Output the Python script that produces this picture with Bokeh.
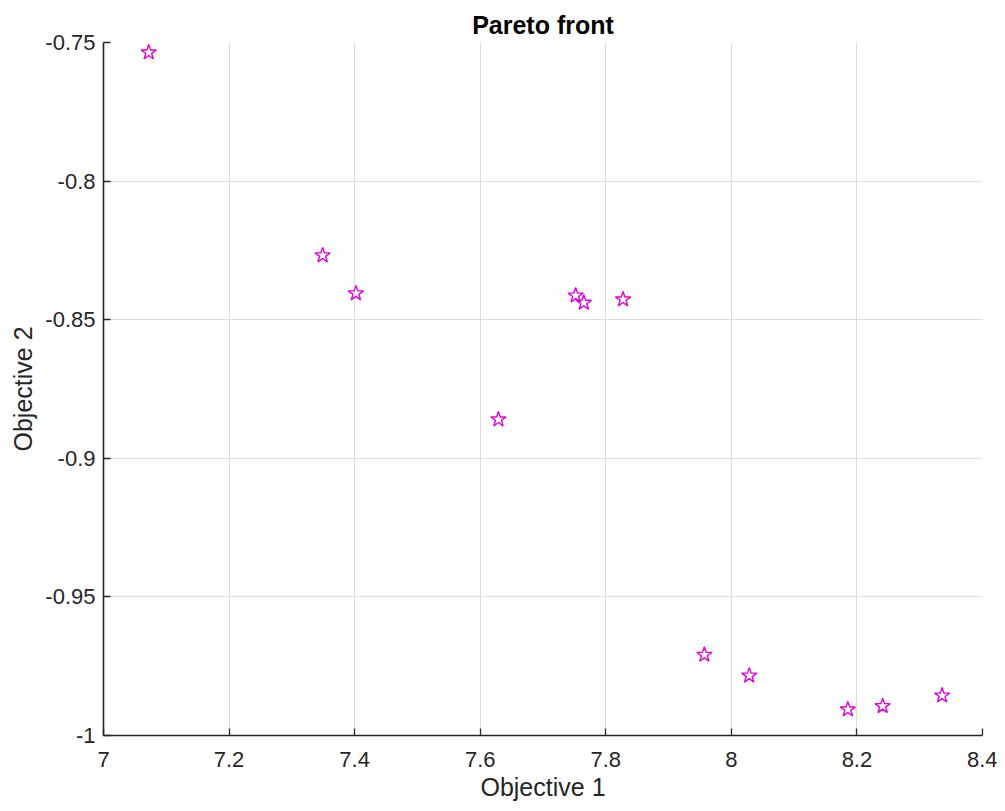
from bokeh.plotting import figure
from bokeh.models import FixedTicker, Range1d, ColumnDataSource
from bokeh.embed import file_html
from bokeh.resources import INLINE

obj1 = [7.072, 7.349, 7.402, 7.629, 7.752, 7.765, 7.8275, 7.957, 8.0285, 8.1855, 8.241, 8.3357]
obj2 = [-0.7536, -0.8268, -0.8405, -0.886, -0.8413, -0.8439, -0.8427, -0.9709, -0.9784, -0.9906, -0.9894, -0.9856]

x_ticks = [7.0, 7.2, 7.4, 7.6, 7.8, 8.0, 8.2, 8.4]
x_tick_labels = ["7", "7.2", "7.4", "7.6", "7.8", "8", "8.2", "8.4"]
y_ticks = [-1.0, -0.95, -0.9, -0.85, -0.8, -0.75]
y_tick_labels = ["-1", "-0.95", "-0.9", "-0.85", "-0.8", "-0.75"]

FONT = "Liberation Sans"
DARK = "#262626"

p = figure(width=997, height=803, output_backend="svg", toolbar_location=None,
           x_range=Range1d(7.0, 8.4), y_range=Range1d(-1.0, -0.75),
           title="Pareto front",
           min_border_left=103, min_border_right=15, min_border_top=42, min_border_bottom=68)

p.title.align = "center"
p.title.text_font = FONT
p.title.text_font_size = "25px"
p.title.text_font_style = "bold"
p.title.text_color = "#000000"
p.title.offset = 0
p.title.standoff = 8

p.outline_line_color = None
p.background_fill_color = "white"
p.border_fill_color = "white"

src = ColumnDataSource(dict(x=obj1, y=obj2))
p.scatter("x", "y", source=src, marker="star", size=16, fill_color=None,
          line_color="#e000e0", line_width=1.4)

p.xaxis.ticker = FixedTicker(ticks=x_ticks)
p.yaxis.ticker = FixedTicker(ticks=y_ticks)
p.xaxis.major_label_overrides = {t: l for t, l in zip(x_ticks, x_tick_labels)}
p.yaxis.major_label_overrides = {t: l for t, l in zip(y_ticks, y_tick_labels)}

for ax in (p.xaxis, p.yaxis):
    ax.axis_line_color = DARK
    ax.axis_line_width = 1.6
    ax.major_tick_line_color = DARK
    ax.major_tick_line_width = 1.3
    ax.major_tick_in = 7
    ax.major_tick_out = 0
    ax.minor_tick_line_color = None
    ax.major_label_text_font = FONT
    ax.major_label_text_font_size = "22px"
    ax.major_label_text_color = DARK
    ax.axis_label_text_font = FONT
    ax.axis_label_text_font_size = "25px"
    ax.axis_label_text_font_style = "normal"
    ax.axis_label_text_color = DARK

p.xaxis.axis_label = "Objective 1"
p.yaxis.axis_label = "Objective 2"
p.xaxis.major_label_standoff = 16
p.yaxis.major_label_standoff = 8
p.xaxis.axis_label_standoff = 3
p.yaxis.axis_label_standoff = 5

p.xgrid.ticker = FixedTicker(ticks=x_ticks)
p.ygrid.ticker = FixedTicker(ticks=y_ticks)
p.grid.grid_line_color = "#dcdcdc"
p.grid.grid_line_width = 1

open("out.html", "w").write(file_html(p, INLINE))
